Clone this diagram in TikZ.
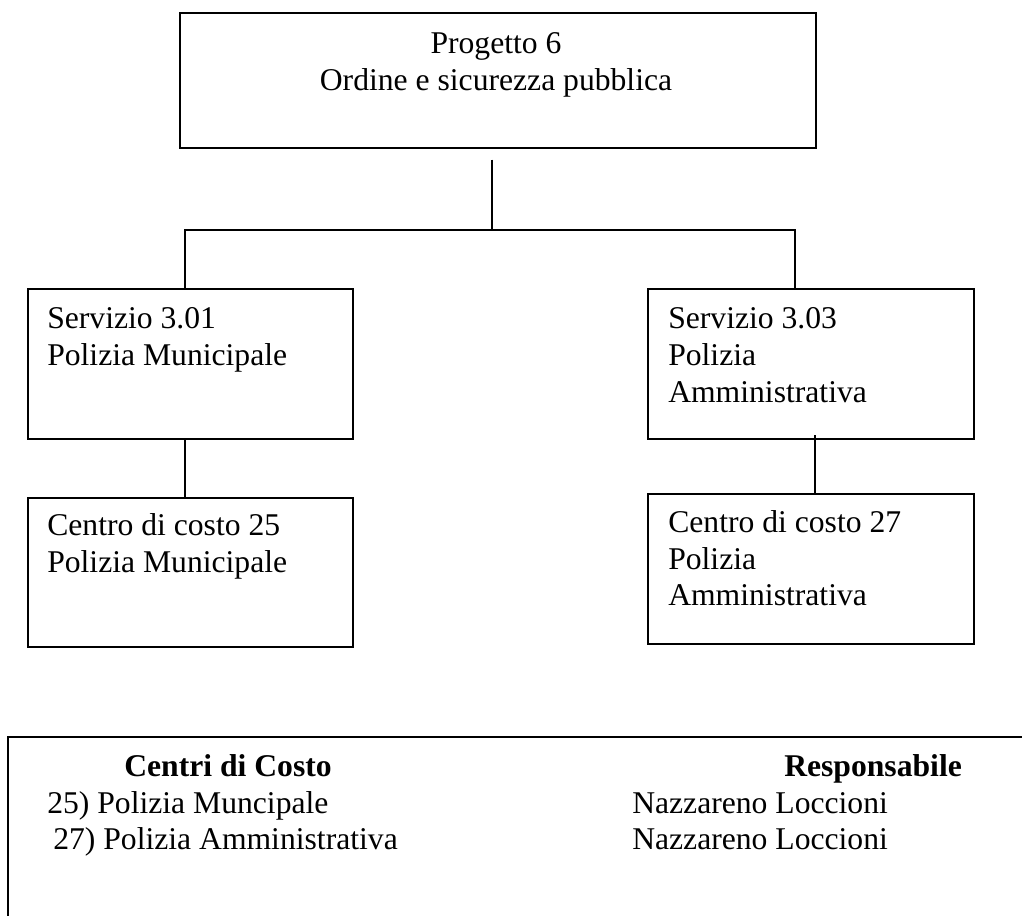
\documentclass[tikz,border=0pt]{standalone}
\usepackage{fontspec}
\setmainfont{Liberation Serif}
\tikzset{
  box/.style={draw, line width=1.2pt, inner sep=0pt, anchor=north west},
  link/.style={draw, line width=0.8pt},
  txt/.style={inner sep=0pt, font=\fontsize{22.5}{26.2}\selectfont},
  head/.style={inner sep=0pt, font=\fontsize{22.5}{26.2}\selectfont\bfseries},
}
\begin{document}
\begin{tikzpicture}[x=0.025cm, y=-0.025cm]
\clip (0,0) rectangle (1022,916);
% boxes
\node[box, minimum width=15.9cm, minimum height=3.375cm] (prog) at (179,12) {};
\node[box, minimum width=8.125cm, minimum height=3.75cm] (s301) at (27,288) {};
\node[box, minimum width=8.15cm, minimum height=3.75cm] (s303) at (647,288) {};
\node[box, minimum width=8.125cm, minimum height=3.725cm] (c25) at (27,497) {};
\node[box, minimum width=8.15cm, minimum height=3.75cm] (c27) at (647,493) {};
\node[box, minimum width=26cm, minimum height=5.5cm] (legend) at (7,736) {};
% texts
\node[txt, align=center, anchor=north] (prog-t) at (496,32) {Progetto 6\\Ordine e sicurezza pubblica};
\node[txt, align=left, anchor=north west] (s301-t) at (47,307) {Servizio 3.01\\Polizia Municipale};
\node[txt, align=left, anchor=north west] (s303-t) at (668,307) {Servizio 3.03\\Polizia\\Amministrativa};
\node[txt, align=left, anchor=north west] (c25-t) at (47,513) {Centro di costo 25\\Polizia Municipale};
\node[txt, align=left, anchor=north west] (c27-t) at (668,510) {Centro di costo 27\\Polizia\\Amministrativa};
% legend
\node[head, anchor=base west] (head1) at (124,776) {Centri di Costo};
\node[head, anchor=base west] (head2) at (784,776) {Responsabile};
\node[txt, anchor=base west] (cc25) at (47,813) {25) Polizia Muncipale};
\node[txt, anchor=base west] (cc27) at (53,849) {27) Polizia Amministrativa};
\node[txt, anchor=base west] (resp25) at (632,813) {Nazzareno Loccioni};
\node[txt, anchor=base west] (resp27) at (632,849) {Nazzareno Loccioni};
% connectors
\coordinate (hub) at (492,230);
\coordinate (hubL) at (185,230);
\coordinate (hubR) at (795,230);
\coordinate (dropR) at (815,435);
\path[link] ([yshift=-0.275cm]hub |- prog.south) -- (hub);
\path[link] (hubL |- s301.north) -- (hubL) -- (hubR) -- (hubR |- s303.north);
\path[link] (hubL |- s301.south) -- (hubL |- c25.north);
\path[link] (dropR) -- (dropR |- c27.north);
\end{tikzpicture}
\end{document}
